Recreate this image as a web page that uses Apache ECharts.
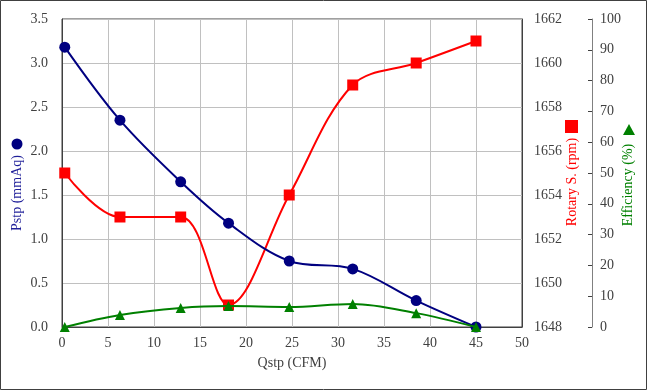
<!DOCTYPE html>
<html><head><meta charset="utf-8">
<script src="https://cdn.jsdelivr.net/npm/echarts@6/dist/echarts.min.js"></script>
<style>html,body{margin:0;padding:0;background:#fff}#c{width:647px;height:390px}</style>
</head><body><div id="c"></div>
<script>
const qstp = [0.3, 6.3, 12.9, 18.1, 24.7, 31.6, 38.5, 45];
const pstp = [3.18, 2.35, 1.65, 1.18, 0.75, 0.66, 0.30, 0.0];
const rotary = [1655.0, 1653.0, 1653.0, 1649.0, 1654.0, 1659.0, 1660.0, 1661.0];
const efficiency = [0.0, 3.9, 6.2, 6.8, 6.5, 7.5, 4.5, 0.0];
const xTicks = {min: 0, max: 50, interval: 5};
const pTicks = {min: 0, max: 3.5, interval: 0.5};
const rTicks = {min: 1648, max: 1662, interval: 2};
const eTicks = {min: 0, max: 100, interval: 10};

const FONT = 'Liberation Serif';
const lbl = {fontFamily: FONT, fontSize: 14, color: '#404040'};
const pair = ys => qstp.map((x, i) => [x, ys[i]]);

const chart = echarts.init(document.getElementById('c'), null, {renderer: 'canvas'});
chart.setOption({
  animation: false,
  grid: {left: 62, right: 125, top: 19, bottom: 63, show: true, borderColor: '#404040', borderWidth: 1},
  xAxis: {
    type: 'value', min: xTicks.min, max: xTicks.max, interval: xTicks.interval,
    axisLine: {show: true, lineStyle: {color: '#404040', width: 1}},
    axisTick: {show: false},
    axisLabel: Object.assign({margin: 9}, lbl),
    splitLine: {show: true, lineStyle: {color: '#c0c0c0', width: 1}},
    name: 'Qstp (CFM)', nameLocation: 'middle', nameGap: 29,
    nameTextStyle: {fontFamily: FONT, fontSize: 14, color: '#404040'}
  },
  yAxis: [
    {
      type: 'value', min: pTicks.min, max: pTicks.max, interval: pTicks.interval, position: 'left',
      axisLine: {show: true, lineStyle: {color: '#404040'}},
      axisTick: {show: false},
      axisLabel: Object.assign({margin: 14, formatter: v => v.toFixed(1)}, lbl),
      splitLine: {show: true, lineStyle: {color: '#c0c0c0', width: 1}}
    },
    {
      type: 'value', min: rTicks.min, max: rTicks.max, interval: rTicks.interval, position: 'right',
      axisLine: {show: true, lineStyle: {color: '#404040'}},
      axisTick: {show: false},
      axisLabel: Object.assign({margin: 12, formatter: v => String(v)}, lbl),
      splitLine: {show: false}
    },
    {
      type: 'value', min: eTicks.min, max: eTicks.max, interval: eTicks.interval, position: 'right', offset: 70,
      axisLine: {show: true, lineStyle: {color: '#808080'}},
      axisTick: {show: true, inside: true, length: 4, lineStyle: {color: '#404040'}},
      axisLabel: Object.assign({margin: 8}, lbl),
      splitLine: {show: false}
    }
  ],
  graphic: [
    {type: 'rect', shape: {x: 0.5, y: 0.5, width: 646, height: 389}, style: {fill: null, stroke: '#404040', lineWidth: 1}, silent: true},
    {type: 'text', x: 17, y: 193, rotation: Math.PI/2, style: {text: 'Pstp (mmAq)', fontFamily: FONT, fontSize: 14, fill: '#1f1f99', align: 'center', verticalAlign: 'middle'}},
    {type: 'circle', shape: {cx: 17, cy: 144, r: 5.5}, style: {fill: '#000080'}},
    {type: 'text', x: 572, y: 182, rotation: Math.PI/2, style: {text: 'Rotary S. (rpm)', fontFamily: FONT, fontSize: 14, fill: '#ff0000', align: 'center', verticalAlign: 'middle'}},
    {type: 'rect', shape: {x: 565, y: 120, width: 13, height: 13}, style: {fill: '#ff0000'}},
    {type: 'text', x: 628, y: 185, rotation: Math.PI/2, style: {text: 'Efficiency (%)', fontFamily: FONT, fontSize: 14, fill: '#008000', align: 'center', verticalAlign: 'middle'}},
    {type: 'polygon', shape: {points: [[629, 124], [635, 135], [623, 135]]}, style: {fill: '#008000'}}
  ],
  series: [
    {type: 'line', name: 'Pstp', yAxisIndex: 0, data: pair(pstp), smooth: 0.35,
     symbol: 'circle', symbolSize: 11, lineStyle: {color: '#000080', width: 2}, itemStyle: {color: '#000080'}, z: 3},
    {type: 'line', name: 'Rotary', yAxisIndex: 1, data: pair(rotary), smooth: 0.35,
     symbol: 'rect', symbolSize: 11, lineStyle: {color: '#ff0000', width: 2}, itemStyle: {color: '#ff0000'}, z: 2},
    {type: 'line', name: 'Efficiency', yAxisIndex: 2, data: pair(efficiency), smooth: 0.35,
     symbol: 'triangle', symbolSize: 10, lineStyle: {color: '#008000', width: 2}, itemStyle: {color: '#008000'}, z: 4}
  ]
});
</script></body></html>
